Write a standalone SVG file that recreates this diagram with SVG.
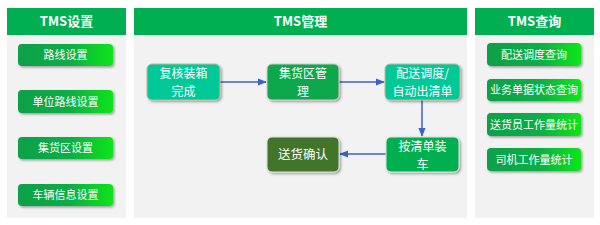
<svg xmlns="http://www.w3.org/2000/svg" width="600" height="225" viewBox="0 0 600 225">
<style>
.panel{fill:#f2f2f2}
.hdr{fill:#00b050}
.htxt{font-family:"Noto Sans CJK SC","Liberation Sans",sans-serif;font-size:13px;font-weight:bold;fill:#fff;text-anchor:middle}
.btn{fill:url(#g);filter:url(#sh)}
.btxt{font-family:"Noto Sans CJK SC",sans-serif;font-size:11px;fill:#fff;text-anchor:middle}
.ntxt{font-family:"Noto Sans CJK SC",sans-serif;font-size:12px;fill:#fff;text-anchor:middle}
.ntxt1{font-family:"Noto Sans CJK SC",sans-serif;font-size:12.5px;fill:#fff;text-anchor:middle}
.conn{stroke:#3a62c8;stroke-width:1.5;fill:none;marker-end:url(#ah)}
</style>
<defs>
<linearGradient id="g" x1="0" y1="0" x2="1" y2="0">
<stop offset="0" stop-color="#0aa048"/>
<stop offset="0.55" stop-color="#0cae45"/>
<stop offset="1" stop-color="#0be51a"/>
</linearGradient>
<filter id="sh" x="-10%" y="-20%" width="125%" height="150%">
<feDropShadow dx="1.5" dy="1.5" stdDeviation="1" flood-color="#000" flood-opacity="0.35"/>
</filter>
<marker id="ah" viewBox="0 0 10 10" refX="9" refY="5" markerWidth="6" markerHeight="6" orient="auto">
<path d="M0,1 L10,5 L0,9 z" fill="#3a62c8"/>
</marker>
</defs>

<g id="panel-settings">
<rect class="panel" x="7" y="8" width="119" height="210"/>
<rect class="hdr" x="7" y="8" width="119" height="27"/>
<text class="htxt" x="66.5" y="26">TMS设置</text>
</g>
<g id="panel-manage">
<rect class="panel" x="134" y="8" width="333" height="210"/>
<rect class="hdr" x="134" y="8" width="333" height="27"/>
<text class="htxt" x="300.5" y="26">TMS管理</text>
</g>
<g id="panel-query">
<rect class="panel" x="475" y="8" width="119" height="210"/>
<rect class="hdr" x="475" y="8" width="119" height="27"/>
<text class="htxt" x="534.5" y="26">TMS查询</text>
</g>

<g id="btn-route"><rect class="btn" x="18" y="44" width="95" height="22" rx="4"/><text class="btxt" x="65.5" y="59">路线设置</text></g>
<g id="btn-unit-route"><rect class="btn" x="18" y="90" width="95" height="23" rx="4"/><text class="btxt" x="65.5" y="105.5">单位路线设置</text></g>
<g id="btn-area"><rect class="btn" x="18" y="137" width="95" height="22" rx="4"/><text class="btxt" x="65.5" y="152">集货区设置</text></g>
<g id="btn-vehicle"><rect class="btn" x="18" y="184" width="95" height="22" rx="4"/><text class="btxt" x="65.5" y="199">车辆信息设置</text></g>

<g id="btn-dispatch-q"><rect class="btn" x="487" y="43" width="94" height="23" rx="4"/><text class="btxt" x="534" y="58.5">配送调度查询</text></g>
<g id="btn-status-q"><rect class="btn" x="487" y="79" width="94" height="22" rx="4"/><text class="btxt" x="534" y="94">业务单据状态查询</text></g>
<g id="btn-courier"><rect class="btn" x="487" y="113" width="94" height="23" rx="4"/><text class="btxt" x="534" y="128.5">送货员工作量统计</text></g>
<g id="btn-driver"><rect class="btn" x="487" y="148" width="94" height="23" rx="4"/><text class="btxt" x="534" y="163.5">司机工作量统计</text></g>

<g id="connectors">
<line class="conn" x1="220" y1="82" x2="266" y2="82"/>
<line class="conn" x1="339" y1="82" x2="384" y2="82"/>
<line class="conn" x1="422" y1="100" x2="422" y2="136"/>
<line class="conn" x1="386" y1="154" x2="340" y2="154"/>
</g>

<g id="n-check"><rect x="147" y="64" width="73" height="36" rx="5" fill="#00c896" stroke="#c8b89a" stroke-width="1" filter="url(#sh)"/><text class="ntxt" x="183.5" y="78.2">复核装箱</text><text class="ntxt" x="183.5" y="95.7">完成</text></g>
<g id="n-area"><rect x="267" y="64" width="72" height="36" rx="5" fill="#0fa84b" stroke="#d8c8c8" stroke-width="1" filter="url(#sh)"/><text class="ntxt" x="303" y="78.2">集货区管</text><text class="ntxt" x="303" y="95.7">理</text></g>
<g id="n-dispatch"><rect x="385" y="64" width="75" height="36" rx="5" fill="#00c896" stroke="#c8b89a" stroke-width="1" filter="url(#sh)"/><text class="ntxt" x="422.5" y="78.2">配送调度/</text><text class="ntxt" x="422.5" y="95.7">自动出清单</text></g>
<g id="n-load"><rect x="386" y="137" width="73" height="35" rx="5" fill="#00b050" stroke="#e0e0e0" stroke-width="1" filter="url(#sh)"/><text class="ntxt" x="422.5" y="151">按清单装</text><text class="ntxt" x="422.5" y="168.5">车</text></g>
<g id="n-confirm"><rect x="267" y="137" width="72" height="35" rx="5" fill="#3f7529" stroke="#e0e0e0" stroke-width="1" filter="url(#sh)"/><text class="ntxt1" x="303" y="159">送货确认</text></g>
</svg>
